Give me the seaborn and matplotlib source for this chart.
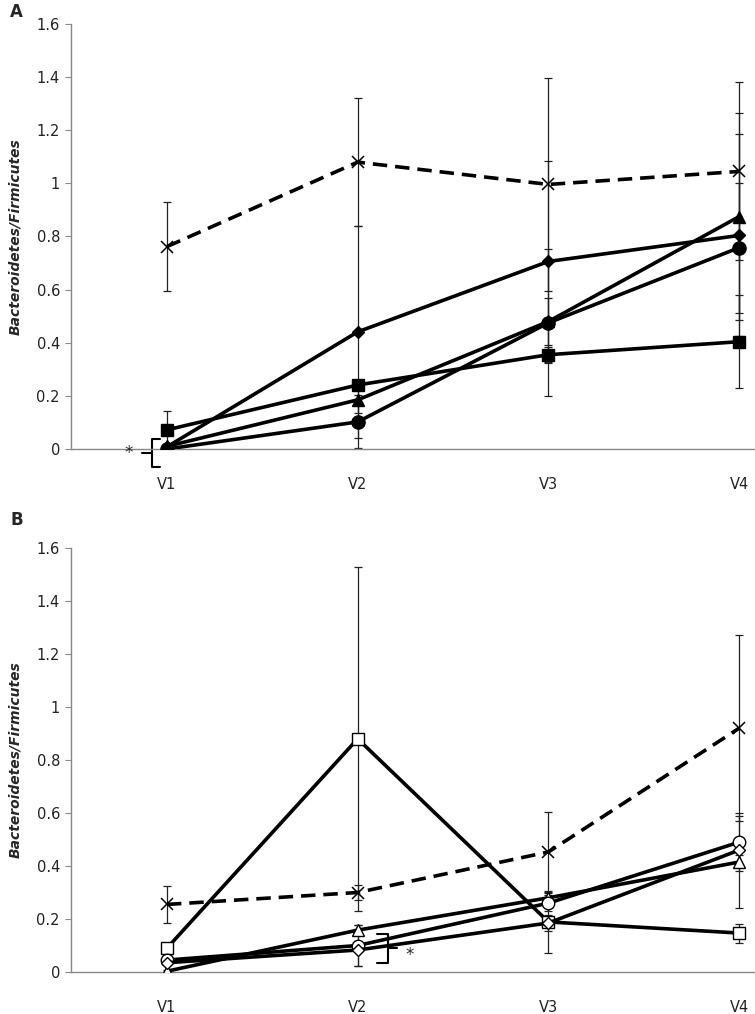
import matplotlib
matplotlib.use("Agg")
import matplotlib.pyplot as plt
import seaborn as sns
import numpy as np
import pandas as pd

sns.set_theme(style="white")
plt.rcParams['font.family'] = ['DejaVu Sans']

visits = ["V1", "V2", "V3", "V4"]
yticks = [0, 0.2, 0.4, 0.6, 0.8, 1.0, 1.2, 1.4, 1.6]
ytick_labels = ["0", "0.2", "0.4", "0.6", "0.8", "1", "1.2", "1.4", "1.6"]

# Panel A (filled markers)
a_cross = [0.762, 1.08, 0.996, 1.045]
a_cross_err = [0.168, 0.24, 0.40, 0.335]
a_triangle = [0.01, 0.185, 0.48, 0.875]
a_triangle_err = [0.01, 0.05, 0.09, 0.39]
a_diamond = [0.008, 0.441, 0.706, 0.804]
a_diamond_err = [0.008, 0.40, 0.377, 0.38]
a_circle = [0.0, 0.102, 0.475, 0.758]
a_circle_err = [0.0, 0.10, 0.277, 0.245]
a_square = [0.072, 0.241, 0.355, 0.404]
a_square_err = [0.07, 0.02, 0.03, 0.174]

# Panel B (open markers)
b_cross = [0.255, 0.30, 0.453, 0.92]
b_cross_err = [0.07, 0.03, 0.15, 0.35]
b_triangle = [0.003, 0.158, 0.28, 0.415]
b_triangle_err = [0.003, 0.02, 0.02, 0.175]
b_circle = [0.045, 0.10, 0.26, 0.49]
b_circle_err = [0.01, 0.077, 0.03, 0.11]
b_diamond = [0.035, 0.083, 0.185, 0.46]
b_diamond_err = [0.01, 0.06, 0.03, 0.02]
b_square = [0.09, 0.88, 0.189, 0.147]
b_square_err = [0.02, 0.65, 0.117, 0.036]

fig = plt.figure(figsize=(7.55, 10.14), dpi=100)
axA = fig.add_axes([71/755, 1 - 449/1014, (755 - 71)/755, 425/1014])
axB = fig.add_axes([71/755, 1 - 972/1014, (755 - 71)/755, 424/1014])

x = np.arange(len(visits))

def draw_panel(ax, series, filled):
    for vals, errs, marker, ms, dashed in series:
        ax.errorbar(x, vals, yerr=errs, fmt='none', ecolor='#222222',
                    elinewidth=0.9, capsize=3.2, capthick=0.9, zorder=2)
    for vals, errs, marker, ms, dashed in series:
        df = pd.DataFrame({"visit": x, "value": vals})
        mfc = 'black' if filled else 'white'
        if marker == 'x':
            mfc = 'black'
        sns.lineplot(data=df, x="visit", y="value", ax=ax, color='black',
                     linewidth=2.6, linestyle=(0, (4, 2.2)) if dashed else '-',
                     marker=marker, markersize=ms, markerfacecolor=mfc,
                     markeredgecolor='black',
                     markeredgewidth=1.0 if (marker != 'x') else 1.1,
                     zorder=3, errorbar=None)
    ax.set_xlim(-0.503, 3.083)
    ax.set_ylim(0, 1.6)
    ax.set_xticks(x)
    ax.set_xticklabels(visits, fontsize=10.5, color='#222222')
    ax.set_yticks(yticks)
    ax.set_yticklabels(ytick_labels, fontsize=10.5, color='#222222')
    ax.tick_params(axis='y', which='both', left=True, length=4, width=0.8,
                   color='#888888', pad=4)
    ax.tick_params(axis='x', which='both', bottom=False, pad=14)
    for s in ['top', 'right']:
        ax.spines[s].set_visible(False)
    for s in ['left', 'bottom']:
        ax.spines[s].set_color('#888888')
        ax.spines[s].set_linewidth(1.0)
    ax.set_xlabel("")
    ax.set_ylabel("Bacteroidetes/Firmicutes", fontsize=10, fontweight='bold',
                  fontstyle='italic', labelpad=10)
    ax.grid(False)

draw_panel(axA, [
    (a_cross, a_cross_err, 'x', 8, True),
    (a_square, a_square_err, 's', 8.5, False),
    (a_triangle, a_triangle_err, '^', 9, False),
    (a_diamond, a_diamond_err, 'D', 6.5, False),
    (a_circle, a_circle_err, 'o', 9.5, False),
], filled=True)

draw_panel(axB, [
    (b_cross, b_cross_err, 'x', 8, True),
    (b_square, b_square_err, 's', 8.5, False),
    (b_triangle, b_triangle_err, '^', 8.5, False),
    (b_circle, b_circle_err, 'o', 9, False),
    (b_diamond, b_diamond_err, 'D', 6.5, False),
], filled=False)

# Significance brackets
axA.plot([-0.037, -0.08, -0.08, -0.037], [0.038, 0.038, -0.068, -0.068],
         color='black', lw=1.5, clip_on=False)
axA.plot([-0.13, -0.08], [-0.015, -0.015], color='black', lw=1.5, clip_on=False)
axA.text(-0.2, -0.015, "*", ha='center', va='center', fontsize=12,
         clip_on=False)

axB.plot([1.10, 1.157, 1.157, 1.10], [0.143, 0.143, 0.034, 0.034],
         color='black', lw=1.5, clip_on=False)
axB.plot([1.157, 1.205], [0.089, 0.089], color='black', lw=1.5, clip_on=False)
axB.text(1.27, 0.065, "*", ha='center', va='center', fontsize=12,
         clip_on=False)

fig.text(10/755, 1 - 12/1014, "A", fontsize=12, fontweight='bold',
         ha='left', va='center')
fig.text(10/755, 1 - 520/1014, "B", fontsize=12, fontweight='bold',
         ha='left', va='center')

fig.savefig("out.png", dpi=100)
